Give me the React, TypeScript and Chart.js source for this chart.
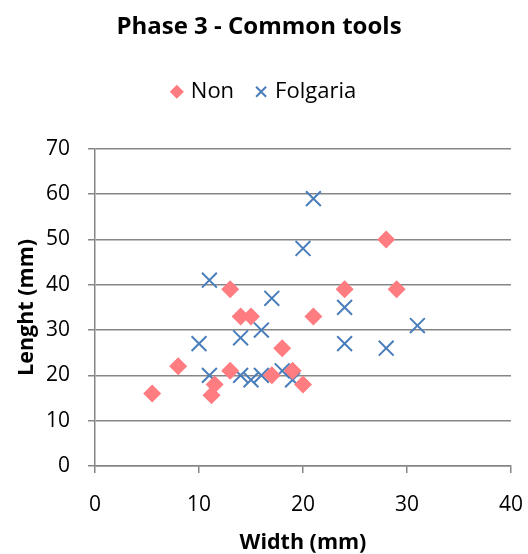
import React, { useEffect, useRef } from "react";
import { Chart, registerables } from "chart.js";

Chart.register(...registerables);

const nonX = [5.5, 8, 11.2, 11.5, 13, 13, 14, 15, 17, 18, 19, 20, 21, 24, 28, 29];
const nonY = [16, 22, 15.6, 18, 21, 39, 33, 33, 20, 26, 21, 18, 33, 39, 50, 39];
const folX = [10, 11, 11, 14, 14, 15, 16, 16, 17, 18, 19, 20, 21, 24, 24, 28, 31];
const folY = [27, 41, 20, 28.3, 20, 19, 30, 20, 37, 21, 19, 48, 59, 35, 27, 26, 31];

const xTicks = [0, 10, 20, 30, 40];
const yTicks = [0, 10, 20, 30, 40, 50, 60, 70];

const FONT = "'Open Sans', sans-serif";

const legendSpacer = {
  id: "legendSpacer",
  afterInit(chart: any) {
    const lg = chart.legend;
    if (!lg) return;
    const origFit = lg.fit.bind(lg);
    lg.fit = () => {
      origFit();
      lg.height += 36;
    };
    const origDraw = lg.draw.bind(lg);
    lg.draw = (...args: any[]) => {
      const c = chart.ctx;
      c.save();
      c.translate(6, 0);
      origDraw(...args);
      c.restore();
    };
  },
};

export default function App() {
  const ref = useRef<HTMLCanvasElement>(null);
  useEffect(() => {
    document.body.style.margin = "0";
    const ctx = ref.current!.getContext("2d")!;
    const chart = new Chart(ctx, {
      type: "scatter",
      data: {
        datasets: [
          {
            label: "Non",
            data: nonX.map((x, i) => ({ x, y: nonY[i] })),
            pointStyle: "rectRot",
            pointRadius: 9,
            backgroundColor: "#FF7C80",
            borderColor: "#FF7C80",
            borderWidth: 0,
          },
          {
            label: "Folgaria",
            data: folX.map((x, i) => ({ x, y: folY[i] })),
            pointStyle: "crossRot",
            pointRadius: 10.5,
            backgroundColor: "#4A7EBB",
            borderColor: "#4A7EBB",
            borderWidth: 2,
          },
        ],
      },
      plugins: [legendSpacer],
      options: {
        responsive: false,
        animation: false,
        layout: { padding: { left: 0, right: 10, top: 0, bottom: 0 } },
        plugins: {
          tooltip: { enabled: false },
          title: {
            display: true,
            text: "Phase 3 - Common tools",
            color: "#000",
            font: { family: FONT, size: 24, weight: "bold" },
            padding: { top: 13, bottom: 15 },
          },
          legend: {
            display: true,
            position: "top",
            labels: {
              usePointStyle: true,
              boxWidth: 6,
              boxHeight: 10,
              padding: 24,
              color: "#000",
              font: { family: FONT, size: 22 },
            },
          },
        },
        scales: {
          x: {
            type: "linear",
            min: 0,
            max: 40,
            ticks: {
              stepSize: 10,
              color: "#000",
              font: { family: FONT, size: 21 },
              padding: 19,
              maxRotation: 0,
              callback: (v: any) => String(xTicks.includes(v) ? v : ""),
            },
            afterFit: (s: any) => {
              s.height = 554 - 466;
              s.paddingRight = 17;
              s.paddingLeft = 0;
            },
            grid: {
              drawOnChartArea: false,
              drawTicks: true,
              tickLength: 7,
              color: "#868686",
              lineWidth: 1.5,
            },
            border: { color: "#868686", width: 1.5 },
            title: {
              display: true,
              text: "Width (mm)",
              color: "#000",
              font: { family: FONT, size: 21.5, weight: "bold" },
              padding: { top: 0, bottom: -2 },
            },
          },
          y: {
            type: "linear",
            min: 0,
            max: 70,
            ticks: {
              stepSize: 10,
              color: "#000",
              font: { family: FONT, size: 21 },
              padding: 18,
              callback: (v: any) => String(yTicks.includes(v) ? v : ""),
            },
            afterFit: (s: any) => {
              s.width = 95;
            },
            grid: {
              display: true,
              drawOnChartArea: true,
              drawTicks: true,
              tickLength: 7,
              color: "#868686",
              lineWidth: 1.5,
            },
            border: { color: "#868686", width: 1.5 },
            title: {
              display: true,
              text: "Lenght (mm)",
              color: "#000",
              font: { family: FONT, size: 21.5, weight: "bold" },
              padding: { top: 14, bottom: 0 },
            },
          },
        },
      },
    });
    return () => chart.destroy();
  }, []);
  return (
    <div style={{ width: 528, height: 554 }}>
      <canvas ref={ref} width={528} height={554} style={{ display: "block" }} />
    </div>
  );
}
